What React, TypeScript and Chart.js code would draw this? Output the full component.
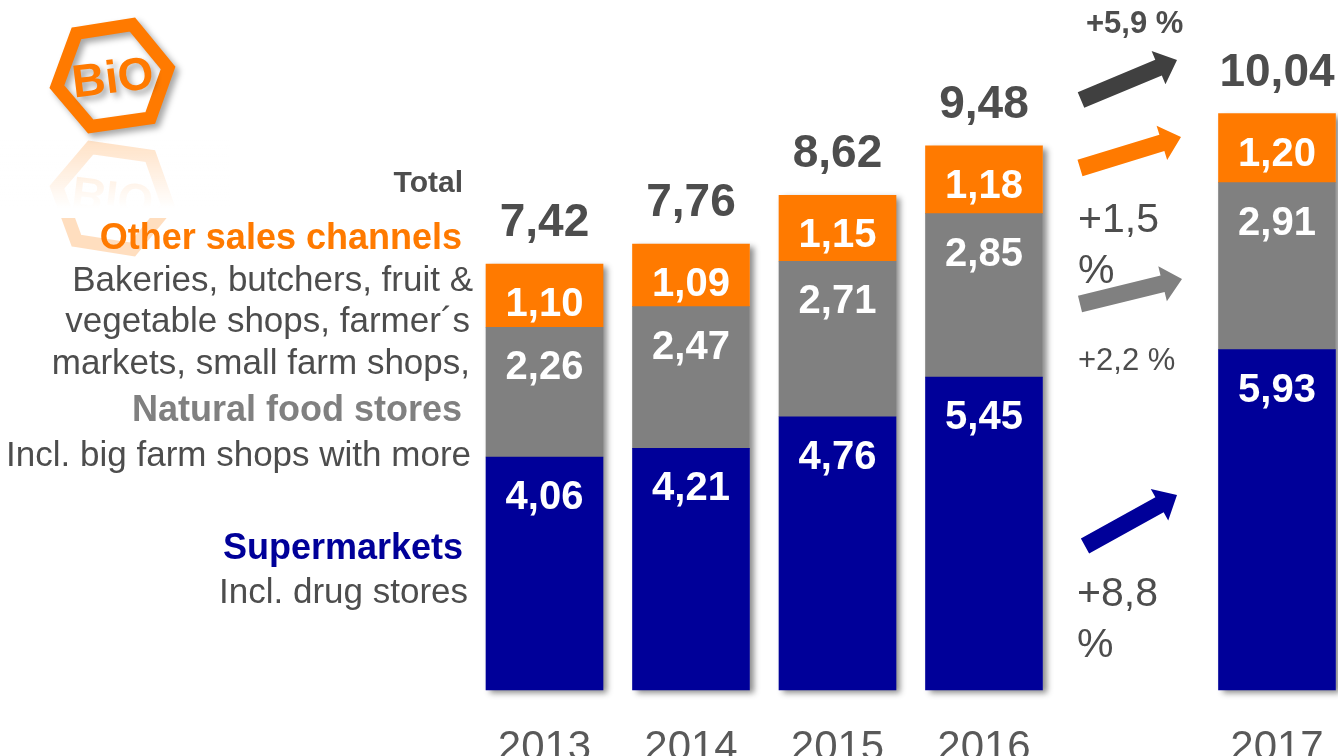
import React, { useEffect, useRef } from "react";
import { Chart, registerables } from "chart.js";

Chart.register(...registerables);

// ---------- data ----------
const years = ["2013", "2014", "2015", "2016", "", "2017"];
const supermarkets = [4.06, 4.21, 4.76, 5.45, null, 5.93];
const naturalFood = [2.26, 2.47, 2.71, 2.85, null, 2.91];
const otherChannels = [1.1, 1.09, 1.15, 1.18, null, 1.2];
const totals = [7.42, 7.76, 8.62, 9.48, null, 10.04];
const seriesNames = ["Supermarkets", "Natural food stores", "Other sales channels"];
const growthLabels = ["+8,8 %", "+2,2 %", "+1,5 %", "+5,9 %"];

// ---------- styles ----------
const NAVY = "#000099";
const GRAY = "#808080";
const ORANGE = "#FF7A00";
const DARK = "#4D4D4D";
const FONT = '"Liberation Sans", Arial, sans-serif';

const fmt = (v: number) => v.toFixed(2).replace(".", ",");

function drawArrow(
  ctx: CanvasRenderingContext2D,
  x0: number, y0: number, x1: number, y1: number,
  shaftW: number, headW: number, headL: number, color: string
) {
  const dx = x1 - x0, dy = y1 - y0;
  const L = Math.hypot(dx, dy);
  const ux = dx / L, uy = dy / L;
  const nx = -uy, ny = ux;
  const bx = x1 - ux * headL, by = y1 - uy * headL;
  const s = shaftW / 2, h = headW / 2;
  ctx.beginPath();
  ctx.moveTo(x0 + nx * s, y0 + ny * s);
  ctx.lineTo(bx + nx * s, by + ny * s);
  ctx.lineTo(bx + nx * h, by + ny * h);
  ctx.lineTo(x1, y1);
  ctx.lineTo(bx - nx * h, by - ny * h);
  ctx.lineTo(bx - nx * s, by - ny * s);
  ctx.lineTo(x0 - nx * s, y0 - ny * s);
  ctx.closePath();
  ctx.fillStyle = color;
  ctx.fill();
}

function drawLogoShape(ctx: CanvasRenderingContext2D) {
  const outer = [
    [72, 28], [135, 18], [175, 67], [155, 123], [88, 133], [50, 88],
  ];
  const cx = 112, cy = 76;
  const pts = outer.map(([x, y]) => {
    const d = Math.hypot(x - cx, y - cy);
    const k = 1 - 7 / d;
    return [cx + (x - cx) * k, cy + (y - cy) * k];
  });
  ctx.beginPath();
  pts.forEach(([x, y], i) => (i ? ctx.lineTo(x, y) : ctx.moveTo(x, y)));
  ctx.closePath();
  ctx.lineWidth = 13;
  ctx.lineJoin = "miter";
  ctx.strokeStyle = ORANGE;
  ctx.stroke();
  ctx.save();
  ctx.translate(113, 80);
  ctx.rotate(-0.12);
  ctx.font = `bold 46px ${FONT}`;
  ctx.fillStyle = ORANGE;
  ctx.textAlign = "center";
  ctx.textBaseline = "middle";
  ctx.fillText("BiO", 0, 0);
  ctx.restore();
}

const decor = {
  id: "decor",
  beforeDatasetsDraw(chart: any) {
    const ctx = chart.ctx as CanvasRenderingContext2D;
    const m0 = chart.getDatasetMeta(0);
    const m2 = chart.getDatasetMeta(2);
    ctx.save();
    ctx.shadowColor = "rgba(0,0,0,0.45)";
    ctx.shadowBlur = 6;
    ctx.shadowOffsetX = 4;
    ctx.shadowOffsetY = 3;
    ctx.fillStyle = "#ffffff";
    m0.data.forEach((el: any, j: number) => {
      if (supermarkets[j] == null) return;
      const top = m2.data[j].y;
      const w = el.width;
      ctx.fillRect(el.x - w / 2, top, w, el.base - top);
    });
    ctx.restore();
  },
  afterDatasetsDraw(chart: any) {
    const ctx = chart.ctx as CanvasRenderingContext2D;
    ctx.save();
    ctx.textAlign = "center";
    ctx.textBaseline = "alphabetic";
    ctx.fillStyle = "#ffffff";
    ctx.font = `bold 40px ${FONT}`;
    chart.data.datasets.forEach((ds: any, i: number) => {
      const meta = chart.getDatasetMeta(i);
      meta.data.forEach((el: any, j: number) => {
        const v = ds.data[j];
        if (v == null) return;
        const top = Math.min(el.y, el.base);
        ctx.fillText(fmt(v), el.x, top + 52);
      });
    });
    const m2 = chart.getDatasetMeta(2);
    ctx.fillStyle = DARK;
    ctx.font = `bold 46px ${FONT}`;
    m2.data.forEach((el: any, j: number) => {
      const t = totals[j];
      if (t == null) return;
      ctx.fillText(fmt(t), el.x, el.y - 28);
    });
    ctx.restore();
  },
  afterDraw(chart: any) {
    const ctx = chart.ctx as CanvasRenderingContext2D;
    // ---- logo with shadow + reflection ----
    ctx.save();
    ctx.globalAlpha = 0.25;
    ctx.translate(0, 274);
    ctx.scale(1, -1);
    drawLogoShape(ctx);
    ctx.restore();
    ctx.save();
    const g = ctx.createLinearGradient(0, 140, 0, 208);
    g.addColorStop(0, "rgba(255,255,255,0.1)");
    g.addColorStop(1, "rgba(255,255,255,1)");
    ctx.fillStyle = g;
    ctx.fillRect(0, 138, 230, 80);
    ctx.restore();
    ctx.save();
    ctx.shadowColor = "rgba(0,0,0,0.35)";
    ctx.shadowBlur = 6;
    ctx.shadowOffsetX = 4;
    ctx.shadowOffsetY = 4;
    drawLogoShape(ctx);
    ctx.restore();

    // ---- left legend text ----
    ctx.save();
    ctx.textAlign = "right";
    ctx.textBaseline = "alphabetic";
    const lines: [string, string, string, number, number][] = [
      ["Total", `bold 30px ${FONT}`, DARK, 463, 192],
      [seriesNames[2], `bold 36px ${FONT}`, ORANGE, 462, 249],
      ["Bakeries, butchers, fruit &", `35px ${FONT}`, DARK, 473, 291],
      ["vegetable shops, farmer\u00b4s", `35px ${FONT}`, DARK, 470, 332],
      ["markets, small farm shops,", `35px ${FONT}`, DARK, 470, 374],
      [seriesNames[1], `bold 36px ${FONT}`, GRAY, 462, 421],
      ["Incl. big farm shops with more", `35px ${FONT}`, DARK, 471, 466],
      [seriesNames[0], `bold 36px ${FONT}`, NAVY, 463, 559],
      ["Incl. drug stores", `35px ${FONT}`, DARK, 468, 603],
    ];
    lines.forEach(([t, f, c, x, y]) => {
      ctx.font = f;
      ctx.fillStyle = c;
      ctx.fillText(t, x, y);
    });
    ctx.restore();

    // ---- growth arrows ----
    ctx.save();
    drawArrow(ctx, 1081, 100, 1177, 60, 17, 36, 20, "#404040");
    drawArrow(ctx, 1080, 168, 1181, 137, 17, 36, 20, ORANGE);
    drawArrow(ctx, 1080, 304, 1182, 279, 17, 36, 20, GRAY);
    drawArrow(ctx, 1085, 546, 1177, 495, 17, 36, 20, NAVY);
    ctx.textAlign = "left";
    ctx.textBaseline = "alphabetic";
    ctx.fillStyle = DARK;
    ctx.font = `bold 31px ${FONT}`;
    ctx.fillText(growthLabels[3], 1086, 33);
    ctx.font = `41px ${FONT}`;
    const g2 = growthLabels[2].split(" ");
    ctx.fillText(g2[0], 1078, 232);
    ctx.fillText(g2[1], 1078, 283);
    ctx.font = `31px ${FONT}`;
    ctx.fillText(growthLabels[1], 1078, 370);
    ctx.font = `41px ${FONT}`;
    const g0 = growthLabels[0].split(" ");
    ctx.fillText(g0[0], 1077, 606);
    ctx.fillText(g0[1], 1077, 657);
    ctx.restore();
  },
};

export default function App() {
  const ref = useRef<HTMLCanvasElement | null>(null);
  useEffect(() => {
    if (!ref.current) return;
    const chart = new Chart(ref.current, {
      type: "bar",
      data: {
        labels: years,
        datasets: [
          { label: seriesNames[0], data: supermarkets, backgroundColor: NAVY },
          { label: seriesNames[1], data: naturalFood, backgroundColor: GRAY },
          { label: seriesNames[2], data: otherChannels, backgroundColor: ORANGE },
        ] as any,
      },
      options: {
        animation: false,
        responsive: true,
        maintainAspectRatio: false,
        layout: { padding: { left: 544.5, right: 61, top: 58.6, bottom: 0 } },
        datasets: { bar: { barThickness: 117, clip: false as any } },
        plugins: {
          legend: { display: false },
          tooltip: { enabled: false },
        },
        scales: {
          x: {
            stacked: true,
            offset: false,
            grid: { display: false, drawTicks: false },
            border: { display: false },
            ticks: {
              autoSkip: false,
              maxRotation: 0,
              color: "#595959",
              font: { family: FONT, size: 42 },
              padding: 33,
            },
            afterFit: (s: any) => {
              s.height = 66;
              s.paddingLeft = 0;
              s.paddingRight = 0;
            },
          },
          y: {
            stacked: true,
            display: false,
            min: 0,
            max: 11,
          },
        },
      },
      plugins: [decor],
    });
    return () => chart.destroy();
  }, []);
  return (
    <div style={{ position: "fixed", left: 0, top: 0, width: 1338, height: 756, background: "#fff" }}>
      <canvas ref={ref} />
    </div>
  );
}
